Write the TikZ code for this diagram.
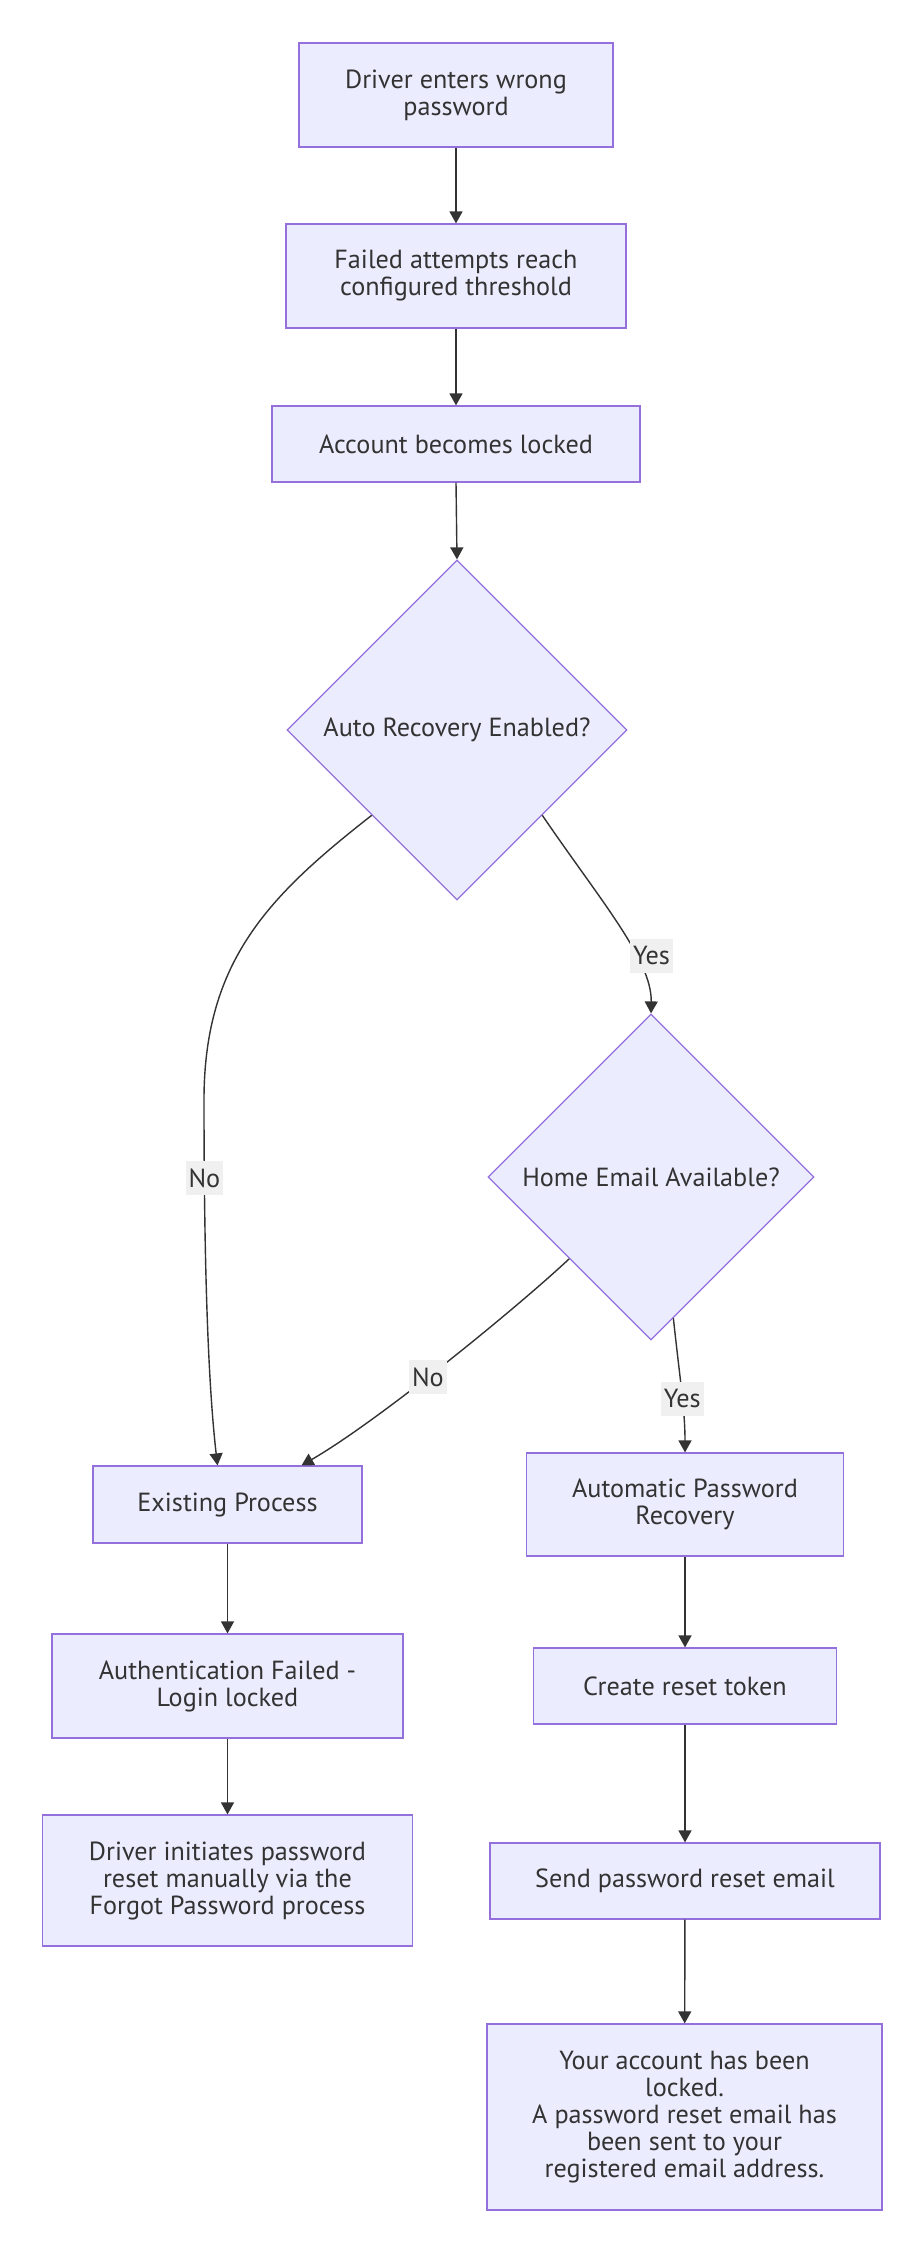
\documentclass[tikz,border=0pt]{standalone}
\usepackage{fontspec}
\setmainfont{PT Sans}
\usetikzlibrary{shapes.geometric, arrows.meta}
\definecolor{boxFill}{RGB}{236, 236, 255}
\definecolor{boxLine}{RGB}{147, 112, 219}
\definecolor{inkGray}{RGB}{51, 51, 51}
\definecolor{labelGray}{RGB}{240, 240, 240}

\tikzset{
  flowbox/.style={draw=boxLine, fill=boxFill, line width=0.6pt, text=inkGray,
    align=center, inner sep=0pt, font=\fontsize{13.1}{13.5}\selectfont},
  decision/.style={flowbox, diamond, aspect=1},
  flowarrow/.style={draw=inkGray, line width=0.7pt, -{Triangle[length=6pt, width=6.5pt]}},
  edgelabel/.style={fill=labelGray, text=inkGray, inner xsep=1.5pt, inner ysep=0pt,
    minimum height=17pt, font=\fontsize{13.1}{13.5}\selectfont}
}

\begin{document}
\begin{tikzpicture}[x=0.5pt, y=-0.5pt]
        \fill[white] (0,0) rectangle (924,2268);
        \useasboundingbox (0,0) rectangle (924,2268);

        % Lock-out steps
        \node[flowbox, minimum width=157pt, minimum height=52pt] (wrongpw) at (456,95) {Driver enters wrong\\password};
        \node[flowbox, minimum width=170pt, minimum height=52pt] (threshold) at (456,276) {Failed attempts reach\\configured threshold};
        \node[flowbox, minimum width=184pt, minimum height=38pt] (locked) at (456,444) {Account becomes locked};

        % Decisions
        \node[decision, minimum width=170pt, minimum height=170pt] (autorec) at (457,730) {Auto Recovery Enabled?};
        \node[decision, minimum width=163pt, minimum height=163pt] (homemail) at (651,1177) {Home Email Available?};

        % Left branch
        \node[flowbox, minimum width=134.5pt, minimum height=38.5pt] (existing) at (227.5,1504.5) {Existing Process};
        \node[flowbox, minimum width=175.5pt, minimum height=52pt] (authfail) at (227.5,1686) {Authentication Failed -\\Login locked};
        \node[flowbox, minimum width=185pt, minimum height=65.5pt] (manual) at (227.5,1880.5) {Driver initiates password\\reset manually via the\\Forgot Password process};

        % Right branch
        \node[flowbox, minimum width=158.5pt, minimum height=51.5pt] (autopw) at (685,1504.5) {Automatic Password\\Recovery};
        \node[flowbox, minimum width=151.5pt, minimum height=38pt] (token) at (685,1686) {Create reset token};
        \node[flowbox, minimum width=195pt, minimum height=38pt] (sendmail) at (685,1881) {Send password reset email};
        \node[flowbox, minimum width=197.5pt, minimum height=93pt] (notice) at (684.5,2117) {Your account has been\\locked.\\A password reset email has\\been sent to your\\registered email address.};

        % Straight arrows
        \draw[flowarrow] (wrongpw) -- (threshold);
        \draw[flowarrow] (threshold) -- (locked);
        \draw[flowarrow] (locked.south) -- (autorec.north);
        \draw[flowarrow] (existing) -- (authfail);
        \draw[flowarrow] (authfail) -- (manual);
        \draw[flowarrow] (autopw) -- (token);
        \draw[flowarrow] (token) -- (sendmail);
        \draw[flowarrow] (sendmail) -- (notice);

        % Curved arrows
        \draw[flowarrow] (autorec.south west) .. controls (270,895) and (204,960) .. (204,1100)
          .. controls (204,1300) and (210,1400) .. ([xshift=-5pt]existing.north)
          node[edgelabel, pos=0.14] {No};
        \draw[flowarrow] (autorec.south east) .. controls (600,900) and (652,960) .. (homemail.north)
          node[edgelabel, pos=0.66, xshift=8pt] {Yes};
        \draw[flowarrow] (homemail.south west) .. controls (520,1305) and (380,1420) .. ([xshift=37pt]existing.north)
          node[edgelabel, pos=0.56] {No};
        \draw[flowarrow] (homemail.-81) .. controls (680,1380) and (685,1410) .. (autopw.north)
          node[edgelabel, pos=0.55] {Yes};
\end{tikzpicture}
\end{document}
